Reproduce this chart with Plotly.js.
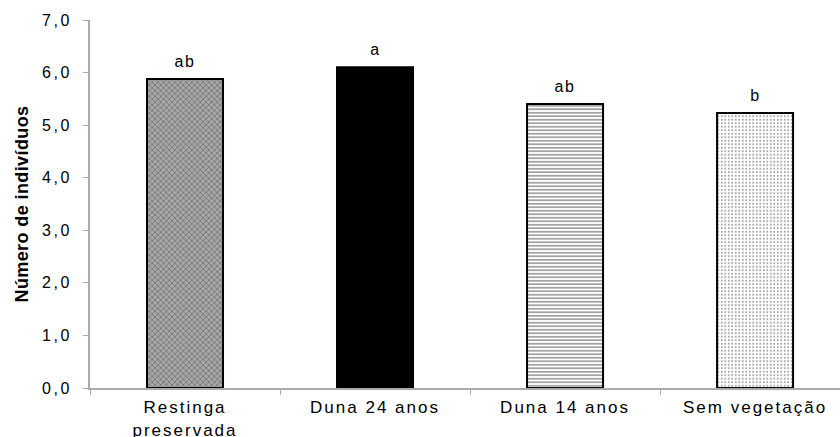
<!DOCTYPE html>
<html>
<head>
<meta charset="utf-8">
<script src="https://cdn.plot.ly/plotly-3.0.1.min.js"></script>
<style>
html,body{margin:0;padding:0;background:#fff;}
#chart{width:840px;height:437px;}
#chart .ytick text{letter-spacing:2.5px;}
#chart .xtick text{letter-spacing:2px;}
#chart .annotation-text{letter-spacing:1.5px;}
#chart .g-ytitle text{letter-spacing:0.4px;}
</style>
</head>
<body>
<div id="chart"></div>
<script>
var categories = ["Restinga<br>preservada", "Duna 24 anos", "Duna 14 anos", "Sem vegetação"];
var values = [5.88, 6.1, 5.4, 5.23];
var letters = ["ab", "a", "ab", "b"];
var yTicks = [0, 1, 2, 3, 4, 5, 6, 7];

var trace = {
  type: "bar",
  x: categories,
  y: values,
  width: 0.4,
  marker: {
    color: ["#a8a8a8", "#000000", "#ffffff", "#ffffff"],
    line: {color: "#000", width: 2},
    pattern: {
      shape: ["x", "", "-", "."],
      size: [4, 4, 3.5, 3.5],
      solidity: [0.4, 0.5, 0.5, 0.25],
      fgcolor: ["#555555", "#000000", "#000000", "#000000"],
      bgcolor: ["#e6e6e6", "#000000", "#ffffff", "#ffffff"],
      fillmode: "overlay"
    }
  },
  hoverinfo: "none"
};

var annotations = categories.map(function (c, i) {
  return {
    x: c, y: values[i], xref: "x", yref: "y",
    text: letters[i], showarrow: false,
    yanchor: "bottom", yshift: 7,
    font: {size: 16, color: "#000"}
  };
});

var layout = {
  width: 840, height: 437,
  margin: {l: 90, r: 0, t: 20, b: 49},
  paper_bgcolor: "#fff", plot_bgcolor: "#fff",
  separators: ",.",
  showlegend: false,
  font: {family: "Liberation Sans, Arial, sans-serif", size: 16, color: "#000"},
  annotations: annotations,
  xaxis: {
    type: "category",
    range: [-0.5, 3.447],
    showline: true, linecolor: "#aaaaaa", linewidth: 2,
    ticks: "outside", tickson: "boundaries", ticklen: 5, tickcolor: "#aaaaaa", tickwidth: 1,
    ticklabelstandoff: 3,
    showgrid: false, zeroline: false,
    tickfont: {size: 17, color: "#000"}
  },
  yaxis: {
    range: [0, 7],
    tickvals: yTicks,
    tickformat: ".1f",
    showline: true, linecolor: "#aaaaaa", linewidth: 2,
    ticks: "outside", ticklen: 5, tickcolor: "#aaaaaa", tickwidth: 1,
    ticklabelstandoff: 8,
    showgrid: false, zeroline: false,
    tickfont: {size: 16, color: "#000"},
    title: {text: "<b>Número de indivíduos</b>", font: {size: 18, color: "#000"}, standoff: 16}
  }
};

Plotly.newPlot("chart", [trace], layout, {staticPlot: true, displayModeBar: false});
</script>
</body>
</html>
